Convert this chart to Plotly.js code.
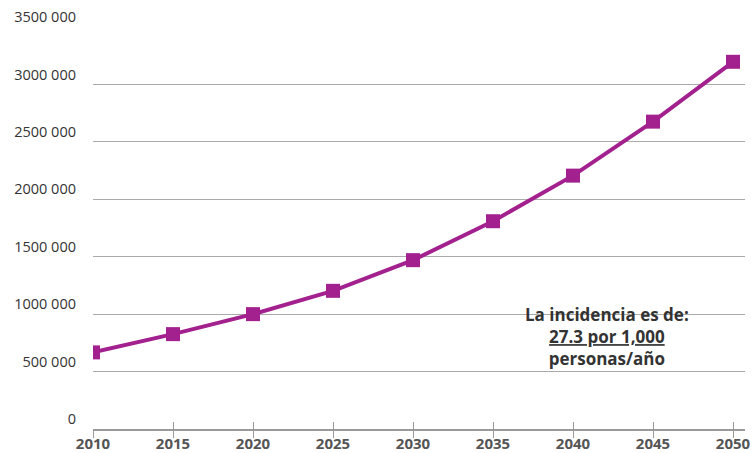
<!DOCTYPE html>
<html>
<head>
<meta charset="utf-8">
<script src="https://cdn.plot.ly/plotly-3.0.1.min.js"></script>
<style>html,body{margin:0;padding:0;background:#fff;}#chart{width:752px;height:453px;}</style>
</head>
<body>
<div id="chart"></div>
<script>
const years = [2010, 2015, 2020, 2025, 2030, 2035, 2040, 2045, 2050];
const cases = [667000, 826000, 1000000, 1203000, 1470000, 1809000, 2206000, 2676000, 3197000];
const yTickVals = [0, 500000, 1000000, 1500000, 2000000, 2500000, 3000000, 3500000];
const yTickText = ['0', '500 000', '1000 000', '1500 000', '2000 000', '2500 000', '3000 000', '3500 000'];
const xTickVals = years;
const noteLines = ['La incidencia es de:', '27.3 por 1,000', 'personas/año'];

const purple = '#A2218E';
const trace = {
  x: years, y: cases, type: 'scatter', mode: 'lines+markers',
  line: {color: purple, width: 4},
  marker: {symbol: 'square', size: 14, color: purple},
  hoverinfo: 'skip', showlegend: false
};
const dummy = {x: [2010], y: [0], xaxis: 'x2', yaxis: 'y', mode: 'markers', marker: {opacity: 0}, hoverinfo: 'skip', showlegend: false};

const layout = {
  width: 752, height: 453,
  margin: {l: 93, r: 7, t: 27, b: 24},
  paper_bgcolor: '#fff', plot_bgcolor: '#fff',
  font: {family: 'Open Sans, sans-serif'},
  xaxis: {
    range: [2010, 2050.75], tickvals: xTickVals, ticktext: xTickVals.map(String),
    ticks: 'outside', ticklen: 7, tickcolor: '#999', tickwidth: 1,
    showline: true, linecolor: '#999', linewidth: 1.5,
    showgrid: false, zeroline: false, ticklabelstandoff: -7,
    tickfont: {size: 15, color: '#555', family: 'Open Sans, sans-serif', weight: 'bold'}
  },
  xaxis2: {
    overlaying: 'x', anchor: 'y', side: 'bottom',
    range: [2010, 2050.75], tickvals: xTickVals,
    ticks: 'inside', ticklen: 7, tickcolor: '#999', tickwidth: 1,
    showticklabels: false, showgrid: false, zeroline: false, showline: false
  },
  yaxis: {
    range: [0, 3500000], tickvals: yTickVals, ticktext: yTickText,
    showgrid: true, gridcolor: '#aaaaaa', gridwidth: 1,
    zeroline: false, showline: false, ticks: '',
    ticklabelshift: -10, ticklabelstandoff: 16,
    tickfont: {size: 14.5, color: '#333', family: 'Open Sans, sans-serif'}
  },
  annotations: [{
    xref: 'paper', yref: 'paper', x: 0.789, y: 0.231,
    xanchor: 'center', yanchor: 'middle', showarrow: false, align: 'center',
    text: '<b>' + noteLines[0] + '</b><br><b><u>' + noteLines[1] + '</u></b><br><b>' + noteLines[2] + '</b>',
    font: {size: 17, color: '#333', family: 'Open Sans, sans-serif'}
  }]
};
Plotly.newPlot('chart', [trace, dummy], layout, {displayModeBar: false, staticPlot: true});
</script>
</body>
</html>
